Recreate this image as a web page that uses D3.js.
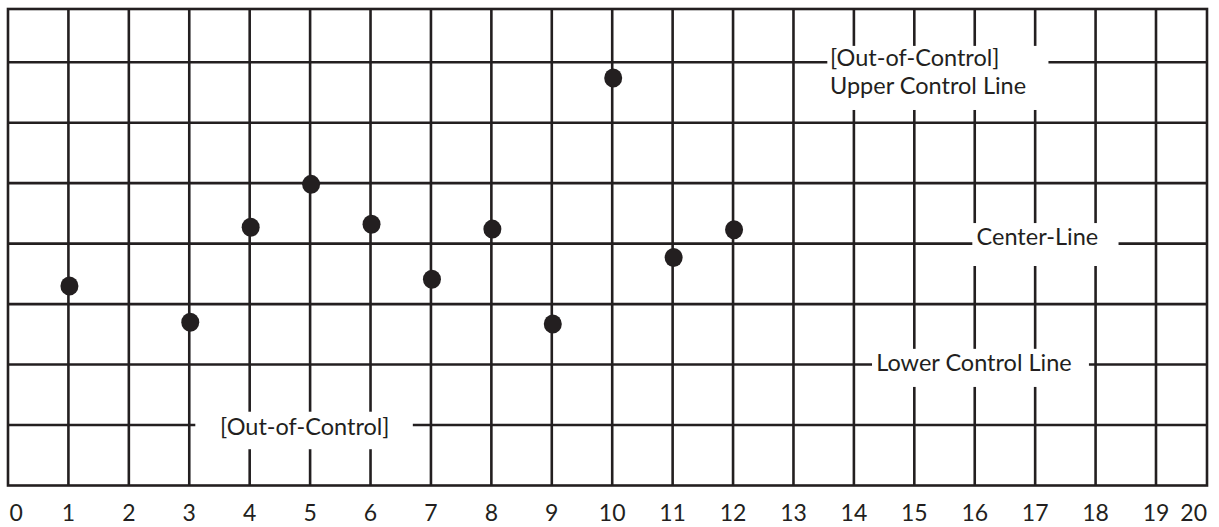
<!DOCTYPE html>
<html>
<head>
<meta charset="utf-8">
<script src="https://cdn.jsdelivr.net/npm/d3@7"></script>
<style>
  html, body { margin: 0; padding: 0; background: #fff; }
  svg { display: block; }
  text { font-family: Lato, "Noto Sans", sans-serif; font-weight: 400; fill: #231f20; }
</style>
</head>
<body>
<svg id="chart" width="1219" height="527"></svg>
<script>
// ---- data ----
const sampleX = [1, 3, 4, 5, 6, 7, 8, 9, 10, 11, 12];
const sampleY = [3.30, 2.70, 4.27, 4.98, 4.32, 3.41, 4.24, 2.67, 6.74, 3.77, 4.23];
const xTickLabels = ["0","1","2","3","4","5","6","7","8","9","10","11","12","13","14","15","16","17","18","19","20"];
const yGridValues = [1, 2, 3, 4, 5, 6, 7];
const labelTexts = [
  ["[Out-of-Control]", "Upper Control Line"],
  ["Center-Line"],
  ["Lower Control Line"],
  ["[Out-of-Control]"]
];

// ---- layout ----
const INK = "#231f20";
const frameL = 8, frameR = 1207, frameT = 9, frameB = 485.5;
const x = d3.scaleLinear().domain([0, 19]).range([8, 1156]);
const y = d3.scaleLinear().domain([0, 7.88]).range([frameB, frameT]);

const svg = d3.select("#chart");

// vertical grid lines
const vTicks = d3.range(1, 20);
svg.append("g").selectAll("line").data(vTicks).join("line")
  .attr("x1", d => x(d)).attr("x2", d => x(d))
  .attr("y1", frameT).attr("y2", frameB)
  .attr("stroke", INK).attr("stroke-width", 2.6);

// horizontal grid lines
svg.append("g").selectAll("line").data(yGridValues).join("line")
  .attr("x1", frameL).attr("x2", frameR)
  .attr("y1", d => y(d)).attr("y2", d => y(d))
  .attr("stroke", INK).attr("stroke-width", 2.6);

// label boxes (white knock-outs) and text
const boxes = [
  { rx0: 13.56, rx1: 17.22, ry0: 7.27, ry1: 6.21, tx: 13.605, lines: labelTexts[0], base: [65.5, 94] },
  { rx0: 15.96, rx1: 18.38, ry0: 4.34, ry1: 3.63, tx: 16.03, lines: labelTexts[1], base: [245] },
  { rx0: 14.30, rx1: 17.89, ry0: 2.26, ry1: 1.63, tx: 14.37, lines: labelTexts[2], base: [371] },
  { rx0: 3.10, rx1: 6.70, ry0: 1.22, ry1: 0.60, tx: 3.51, lines: labelTexts[3], base: [435] }
];
const gBox = svg.append("g");
boxes.forEach(b => {
  gBox.append("rect")
    .attr("x", x(b.rx0)).attr("width", x(b.rx1) - x(b.rx0))
    .attr("y", y(b.ry0)).attr("height", y(b.ry1) - y(b.ry0))
    .attr("fill", "#fff");
  b.lines.forEach((t, i) => {
    gBox.append("text")
      .attr("x", x(b.tx)).attr("y", b.base[i])
      .attr("font-size", 23.5)
      .text(t);
  });
});

// frame
svg.append("rect")
  .attr("x", frameL).attr("y", frameT)
  .attr("width", frameR - frameL).attr("height", frameB - frameT)
  .attr("fill", "none").attr("stroke", INK).attr("stroke-width", 2.6);

// points
svg.append("g").selectAll("ellipse").data(sampleX).join("ellipse")
  .attr("cx", d => x(d) + 1)
  .attr("cy", (d, i) => y(sampleY[i]))
  .attr("rx", 9).attr("ry", 9.5)
  .attr("fill", INK);

// x tick labels
svg.append("g").selectAll("text").data(xTickLabels).join("text")
  .attr("x", (d, i) => i === 0 ? frameL + 1.5 : (i === 20 ? frameR : x(i)))
  .attr("y", 521)
  .attr("text-anchor", (d, i) => i === 0 ? "start" : (i === 20 ? "end" : "middle"))
  .attr("font-size", 23)
  .text(d => d);
</script>
</body>
</html>
